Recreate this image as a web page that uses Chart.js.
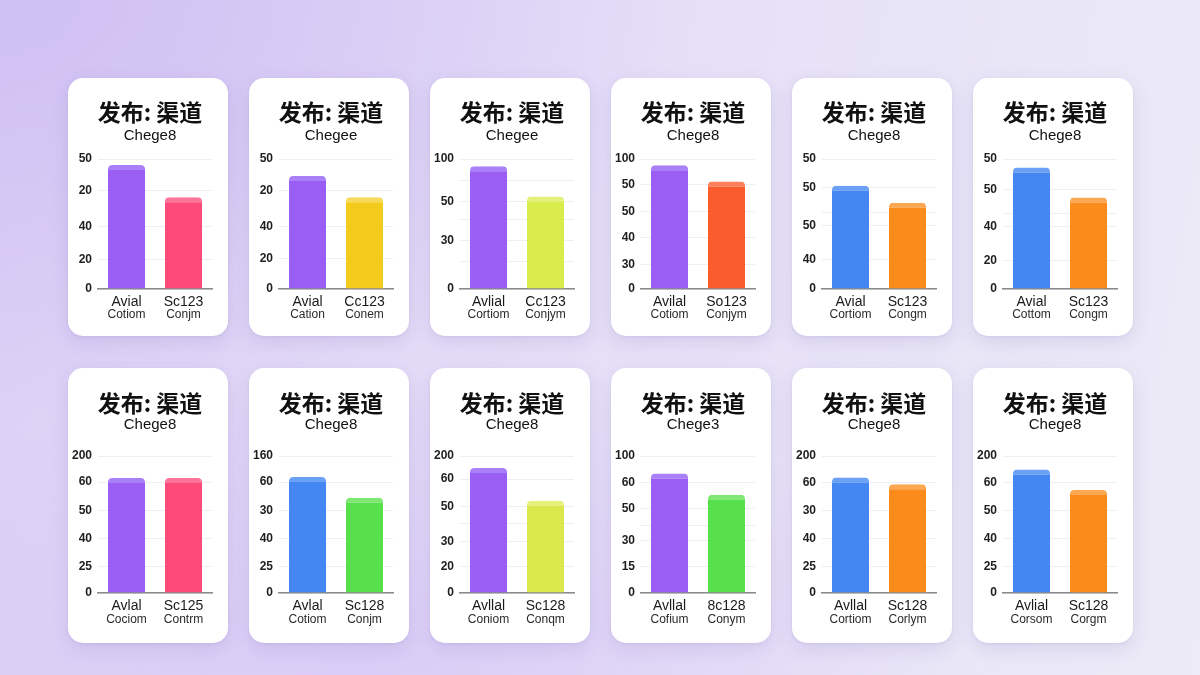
<!DOCTYPE html>
<html>
<head>
<meta charset="utf-8">
<script src="https://cdn.jsdelivr.net/npm/chart.js@4.4.1/dist/chart.umd.min.js"></script>
<style>
  html, body { margin:0; padding:0; }
  body {
    width:1200px; height:675px; overflow:hidden; position:relative;
    background:
      radial-gradient(ellipse 700px 420px at 0% 0%, rgba(206,190,243,0.9), rgba(206,190,243,0) 100%),
      radial-gradient(ellipse 600px 300px at 30% 100%, rgba(215,200,246,0.8), rgba(215,200,246,0) 100%),
      linear-gradient(100deg, #dccff5 0%, #e5def7 45%, #ecebf7 100%);
  }
  .card {
    position:absolute; width:160px; background:#fff; border-radius:15px;
    box-shadow: 0 6px 18px rgba(120,100,180,0.16), 0 1px 3px rgba(120,100,180,0.10);
    overflow:hidden;
  }
  .card canvas { display:block; }
</style>
</head>
<body>
<script>
// ---- data ----
const chartTitle = "发布: 渠道";
const subtitles = ["Chege8","Chegee","Chegee","Chege8","Chege8","Chege8",
                   "Chege8","Chege8","Chege8","Chege3","Chege8","Chege8"];
const catLine1 = [
  ["Avial","Sc123"],["Avial","Cc123"],["Avlial","Cc123"],["Avilal","So123"],["Avial","Sc123"],["Avial","Sc123"],
  ["Avlal","Sc125"],["Avlal","Sc128"],["Avllal","Sc128"],["Avllal","8c128"],["Avllal","Sc128"],["Avlial","Sc128"]
];
const catLine2 = [
  ["Cotiom","Conjm"],["Cation","Conem"],["Cortiom","Conjym"],["Cotiom","Conjym"],["Cortiom","Congm"],["Cottom","Congm"],
  ["Cociom","Contrm"],["Cotiom","Conjm"],["Coniom","Conqm"],["Cofium","Conym"],["Cortiom","Corlym"],["Corsom","Corgm"]
];
// bar heights, in axis units (0 = baseline, 100 = top gridline)
const seriesA = [95.3, 87, 94.4, 95.2, 79.5, 93.5, 84, 84.6, 91.2, 87.2, 84.3, 90.2];
const seriesB = [70.5, 70.5, 71.2, 82.7, 66.4, 70.3, 84, 69.6, 67.4, 71.8, 79.4, 75.1];
// tick positions on the axis and their printed labels
const tickPos = [
  [0,22.5,48.3,75.4,100],
  [0,23.3,48.3,75.4,100],
  [0,20.8,37,53.6,67.4,83.4,100],
  [0,19,39.4,59.5,80.4,100],
  [0,22.6,48.8,58.6,78,100],
  [0,21.7,48,58.1,76.7,100],
  [0,19.3,39.5,60.4,81,100],
  [0,19.3,39.5,60.4,81,100],
  [0,19,37.7,50.4,63.2,83.2,100],
  [0,19.2,38.1,49,61.4,80.6,100],
  [0,19.5,40,60.2,80.5,100],
  [0,19.5,40,60.2,80.5,100]
];
const tickText = [
  ["0","20","40","20","50"],
  ["0","20","40","20","50"],
  ["0","","30","","50","","100"],
  ["0","30","40","50","50","100"],
  ["0","40","50","","50","50"],
  ["0","20","40","","50","50"],
  ["0","25","40","50","60","200"],
  ["0","25","40","30","60","160"],
  ["0","20","30","","50","60","200"],
  ["0","15","30","","50","60","100"],
  ["0","25","40","30","60","200"],
  ["0","25","40","50","60","200"]
];
const colorA = ["#9a5ef5","#9a5ef5","#9a5ef5","#9a5ef5","#4487f2","#4487f2",
                "#9a5ef5","#4487f2","#9a5ef5","#9a5ef5","#4487f2","#4487f2"];
const colorB = ["#fc4a7b","#f4cb1c","#d9ec4c","#fb5c2e","#fb8c1c","#fb8c1c",
                "#fc4a7b","#58e04c","#dbe84c","#58e04c","#fb8c1c","#fb8c1c"];
const capA = ["#a980f7","#a980f7","#a980f7","#a980f7","#6aa0f5","#6aa0f5",
              "#a980f7","#6aa0f5","#a980f7","#a980f7","#6aa0f5","#6aa0f5"];
const capB = ["#fd7399","#f7da5a","#e3f27a","#fc7f5a","#fca752","#fca752",
              "#fd7399","#7ee873","#e6f07a","#7ee873","#fca752","#fca752"];

// ---- layout ----
const cardX = [68, 249, 430, 611, 792, 973];
const rows = [
  { top:78,  h:258, padTop:23, titleGap:4, subPad:16, padBottom:47, l1:13, l2:26 },
  { top:368, h:275, padTop:24, titleGap:2, subPad:24, padBottom:50, l1:13, l2:27 }
];

// centre the title/subtitle on the card rather than on the padded layout
const titleCenterPlugin = {
  id: 'titleCenter',
  afterLayout(chart) {
    chart.boxes.forEach(b => {
      if (b.position === 'top') { b.left = 4; b.right = chart.width; b.width = chart.width - 4; }
    });
  }
};

const xLabelPlugin = {
  id: 'xLabels',
  afterDraw(chart, args, opts) {
    const ctx = chart.ctx, xs = chart.scales.x, bottom = chart.chartArea.bottom;
    ctx.save();
    ctx.textAlign = 'center';
    ctx.textBaseline = 'middle';
    chart.data.labels.forEach((lab, i) => {
      const x = xs.getPixelForValue(i);
      ctx.fillStyle = '#1a1a1a';
      ctx.font = '14px "Liberation Sans", Arial, sans-serif';
      ctx.fillText(lab, x, bottom + opts.l1);
      ctx.fillStyle = '#2a2a2a';
      ctx.font = '12px "Liberation Sans", Arial, sans-serif';
      ctx.fillText(opts.line2[i], x, bottom + opts.l2);
    });
    ctx.restore();
  }
};

for (let i = 0; i < 12; i++) {
  const r = rows[Math.floor(i / 6)];
  const card = document.createElement('div');
  card.className = 'card';
  card.style.left = cardX[i % 6] + 'px';
  card.style.top = r.top + 'px';
  card.style.height = r.h + 'px';
  const cv = document.createElement('canvas');
  cv.width = 160; cv.height = r.h;
  cv.style.width = '160px'; cv.style.height = r.h + 'px';
  card.appendChild(cv);
  document.body.appendChild(card);

  new Chart(cv, {
    type: 'bar',
    data: {
      labels: catLine1[i],
      datasets: [{
        data: [seriesA[i], seriesB[i]],
        backgroundColor: [colorA[i], colorB[i]],
        borderColor: [capA[i], capB[i]],
        borderWidth: { top: 5, left: 0, right: 0, bottom: 0 },
        borderSkipped: 'bottom',
        borderRadius: { topLeft: 4, topRight: 4, bottomLeft: 0, bottomRight: 0 },
        barPercentage: 0.65,
        categoryPercentage: 1
      }]
    },
    options: {
      responsive: false,
      animation: false,
      devicePixelRatio: 1,
      layout: { padding: { top: r.padTop, left: 0, right: 16, bottom: r.padBottom } },
      plugins: {
        legend: { display: false },
        tooltip: { enabled: false },
        title: {
          display: true, text: chartTitle, color: '#111',
          font: { family: '"Noto Sans CJK SC", "Noto Sans", sans-serif', size: 23, weight: 'bold', lineHeight: 1 },
          padding: { top: 0, bottom: r.titleGap }
        },
        subtitle: {
          display: true, text: subtitles[i], color: '#111',
          font: { family: '"Liberation Sans", Arial, sans-serif', size: 15, lineHeight: 1 },
          padding: { top: 0, bottom: r.subPad }
        },
        xLabels: { line2: catLine2[i], l1: r.l1, l2: r.l2 }
      },
      scales: {
        x: {
          grid: { display: false, drawTicks: false },
          border: { display: true, color: '#8a8a8a', width: 1.5 },
          ticks: { display: false }
        },
        y: {
          min: 0, max: 100,
          afterBuildTicks: s => { s.ticks = tickPos[i].map(v => ({ value: v })); },
          afterFit: s => { s.width = 30; },
          ticks: {
            autoSkip: false, padding: 6, color: '#1e1e1e',
            font: { family: '"Liberation Sans", Arial, sans-serif', size: 12, weight: 'bold' },
            callback: (v, idx) => tickText[i][idx]
          },
          grid: { color: '#efeff3', lineWidth: 1, drawTicks: false },
          border: { display: false }
        }
      }
    },
    plugins: [titleCenterPlugin, xLabelPlugin]
  });
}
</script>
</body>
</html>
